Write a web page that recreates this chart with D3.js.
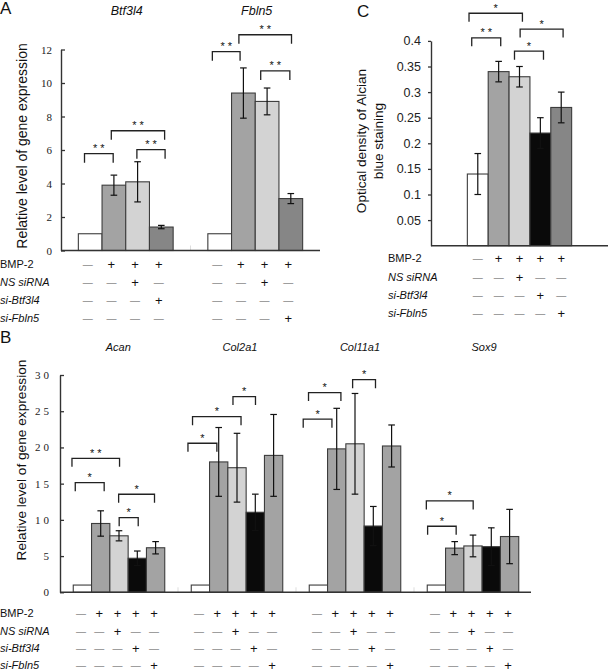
<!DOCTYPE html>
<html><head><meta charset="utf-8">
<script src="https://cdn.jsdelivr.net/npm/d3@7"></script>
<style>body{margin:0;background:#fff}svg{display:block}</style>
</head><body>
<svg id="chart" width="608" height="672"></svg>
<script>
// ---------- shared ----------
const conditionLabels = ["BMP-2", "NS siRNA", "si-Btf3l4", "si-Fbln5"];
const conditionItalic = [false, true, true, true];

// ---------- Panel A ----------
const genesA = ["Btf3l4", "Fbln5"];
const valuesA = [[1, 3.9, 4.1, 1.4], [1, 9.4, 8.9, 3.1]];
const errorsA = [[0, 0.6, 1.2, 0.1], [0, 1.5, 0.8, 0.3]];
const colorsA = ["#ffffff", "#a3a3a3", "#d3d3d3", "#868686"];
const signsA = [
  [["-", "+", "+", "+"], ["-", "-", "+", "-"], ["-", "-", "-", "+"], ["-", "-", "-", "-"]],
  [["-", "+", "+", "+"], ["-", "-", "+", "-"], ["-", "-", "-", "-"], ["-", "-", "-", "+"]]
];
const ticksA = [0, 2, 4, 6, 8, 10, 12];
// [group, from bar, to bar, height (data units), label]
const bracketsA = [
  [0, -0.24, 0.97, 5.78, "* *"], [0, 0.89, 3.14, 7.15, "* *"], [0, 1.97, 3.16, 6.02, "* *"],
  [1, -0.31, 0.86, 11.87, "* *"], [1, 0.81, 3.03, 12.88, "* *"], [1, 1.73, 2.96, 10.72, "* *"]
];

// ---------- Panel B ----------
const genesB = ["Acan", "Col2a1", "Col11a1", "Sox9"];
const valuesB = [
  [1, 9.5, 7.8, 4.7, 6.15],
  [1, 18, 17.2, 11.05, 18.9],
  [1, 19.8, 20.5, 9.15, 20.2],
  [1, 6.1, 6.4, 6.3, 7.7]
];
const errorsB = [
  [0, 1.75, 0.7, 1.0, 0.85],
  [0, 4.75, 4.75, 2.5, 5.65],
  [0, 5.6, 6.95, 2.7, 2.9],
  [0, 0.9, 1.5, 2.6, 3.75]
];
const colorsB = ["#ffffff", "#a3a3a3", "#d3d3d3", "#0a0a0a", "#a3a3a3"];
const signs5 = [["-", "+", "+", "+", "+"], ["-", "-", "+", "-", "-"], ["-", "-", "-", "+", "-"], ["-", "-", "-", "-", "+"]];
const ticksB = [0, 5, 10, 15, 20, 25, 30];
const bracketsB = [
  [0, -0.57, 2.03, 18.5, "* *"], [0, -0.39, 1.19, 15.14, "*"], [0, 1.98, 3.94, 13.54, "*"], [0, 2.01, 3.05, 10.3, "*"],
  [1, -0.68, 0.90, 20.58, "*"], [1, -0.43, 2.22, 24.25, "*"], [1, 1.78, 3.01, 27.02, "*"],
  [2, -0.83, 0.74, 23.9, "*"], [2, -0.54, 1.23, 27.57, "*"], [2, 1.87, 3.12, 29.36, "*"],
  [3, -0.55, 2.01, 12.61, "*"], [3, -0.48, 1.08, 9.12, "*"]
];

// ---------- Panel C ----------
const valuesC = [0.14, 0.34, 0.33, 0.22, 0.27];
const errorsC = [0.04, 0.02, 0.02, 0.03, 0.03];
const colorsC = ["#ffffff", "#a3a3a3", "#d3d3d3", "#0a0a0a", "#868686"];
const ticksC = [0.05, 0.1, 0.15, 0.2, 0.25, 0.3, 0.35, 0.4];
const bracketsC = [
  [0, -0.42, 2.14, 0.454, "*"], [0, -0.29, 1.10, 0.406, "* *"],
  [0, 2.03, 4.09, 0.423, "*"], [0, 1.76, 3.15, 0.380, "*"]
];

const SANS = "'Liberation Sans', Arial, sans-serif";
const SERIF = "'Liberation Serif', 'Times New Roman', serif";
const svg = d3.select("#chart");

function drawPanel(p) {
  const g = svg.append("g");
  const y = d3.scaleLinear().domain(p.domain).range(p.yRange);
  const x0 = d3.scaleBand().domain(d3.range(p.values.length)).range(p.xRange);
  const nb = p.values[0].length;
  const bw = x0.bandwidth();
  const x1 = d3.scaleBand().domain(d3.range(nb)).range([(bw - p.barsWidth) / 2, (bw + p.barsWidth) / 2]);
  const cx = (gi, bi) => x0(gi) + x1(0) + x1.bandwidth() * (bi + 0.5);

  // group dividers (faint)
  for (let i = 1; i < p.values.length; i++) {
    g.append("line").attr("x1", x0(i)).attr("x2", x0(i))
      .attr("y1", y(0)).attr("y2", y(0) - 5)
      .attr("stroke", "#ddd").attr("stroke-width", 1);
  }

  // bars
  p.values.forEach((vals, gi) => {
    const gg = g.append("g").attr("transform", `translate(${x0(gi)},0)`);
    gg.selectAll("rect").data(vals).join("rect")
      .attr("x", (d, i) => x1(i)).attr("width", x1.bandwidth())
      .attr("y", d => y(d)).attr("height", d => y(0) - y(d))
      .attr("fill", (d, i) => p.colors[i])
      .attr("stroke", "#3c3c3c").attr("stroke-width", 1.1);
    // error bars
    vals.forEach((v, i) => {
      const e = p.errors[gi][i];
      if (!e) return;
      const c = x1(i) + x1.bandwidth() / 2;
      const eg = gg.append("g").attr("stroke", "#111").attr("stroke-width", 1.2);
      eg.append("line").attr("x1", c).attr("x2", c).attr("y1", y(v - e)).attr("y2", y(v + e));
      eg.append("line").attr("x1", c - p.cap).attr("x2", c + p.cap).attr("y1", y(v - e)).attr("y2", y(v - e));
      eg.append("line").attr("x1", c - p.cap).attr("x2", c + p.cap).attr("y1", y(v + e)).attr("y2", y(v + e));
    });
  });

  // baseline
  g.append("line").attr("x1", p.xRange[0]).attr("x2", p.xAxisEnd)
    .attr("y1", y(0)).attr("y2", y(0)).attr("stroke", "#333").attr("stroke-width", 1.4);

  // y axis
  const ax = d3.axisLeft(y).tickValues(p.ticks).tickSizeOuter(0)
    .tickSizeInner(p.tickSize).tickPadding(p.tickPadding).tickFormat(p.tickFormat);
  const axg = g.append("g").attr("transform", `translate(${p.xRange[0]},0)`).call(ax);
  axg.select(".domain").attr("stroke", "#333").attr("stroke-width", 1.4);
  axg.selectAll(".tick line").attr("stroke", "#333").attr("stroke-width", 1.3);
  axg.selectAll(".tick text").attr("font-family", p.tickFont).attr("font-size", p.tickFontSize)
    .attr("fill", "#222").style("letter-spacing", p.tickSpacing || "0px");

  // brackets
  p.brackets.forEach(([gi, a, b, h, lab]) => {
    const xa = cx(gi, a), xb = cx(gi, b), yy = y(h);
    g.append("path").attr("d", `M${xa},${yy + p.leg}V${yy}H${xb}V${yy + p.leg}`)
      .attr("fill", "none").attr("stroke", "#222").attr("stroke-width", 1.3);
    g.append("text").attr("x", (xa + xb) / 2).attr("y", yy - 1.5).attr("text-anchor", "middle")
      .attr("font-family", SANS).attr("font-size", 11).attr("fill", "#111")
      .style("white-space", "pre").text(lab);
  });

  // gene titles
  if (p.titles) p.titles.forEach((t, gi) => {
    g.append("text").attr("x", p.titleX[gi]).attr("y", p.titleY).attr("text-anchor", "middle")
      .attr("font-family", SANS).attr("font-style", "italic").attr("font-size", p.titleSize)
      .attr("fill", "#111").text(t);
  });

  // condition rows
  conditionLabels.forEach((lab, r) => {
    const ry = p.rowY[r];
    g.append("text").attr("x", p.labelX).attr("y", ry).attr("dy", "0.35em")
      .attr("font-family", SANS).attr("font-size", 11)
      .attr("font-style", conditionItalic[r] ? "italic" : "normal").attr("fill", "#111").text(lab);
    p.signs.forEach((rows, gi) => {
      rows[r].forEach((s, bi) => {
        g.append("text").attr("x", cx(gi, bi) + p.signShift).attr("y", ry).attr("dy", "0.35em")
          .attr("text-anchor", "middle").attr("font-family", SANS)
          .attr("font-size", s === "+" ? 13 : 10)
          .attr("fill", s === "+" ? "#111" : "#888")
          .text(s === "+" ? "+" : "—");
      });
    });
  });
  return g;
}

// Panel A
drawPanel({
  values: valuesA, errors: errorsA, colors: colorsA, domain: [0, 12], yRange: [250.5, 49.5],
  xRange: [61, 320], xAxisEnd: 320, barsWidth: 94.8, cap: 3.3, ticks: ticksA,
  tickSize: -4, tickPadding: 9, tickFormat: d3.format("d"), tickFont: SERIF, tickFontSize: 11,
  brackets: bracketsA, leg: 9, titles: genesA, titleX: [126.7, 256.7], titleY: 14.5, titleSize: 12.5,
  rowY: [264, 282.3, 300, 318.3], labelX: 0, signs: signsA, signShift: -2.5
});

// Panel B
drawPanel({
  values: valuesB, errors: errorsB, colors: colorsB, domain: [0, 30], yRange: [592.3, 375],
  xRange: [60, 532], xAxisEnd: 531, barsWidth: 91.5, cap: 3.3, ticks: ticksB,
  tickSize: -4, tickPadding: 8, tickFormat: d3.format("d"), tickFont: SERIF, tickFontSize: 11, tickSpacing: "3px",
  brackets: bracketsB, leg: 8.5, titles: genesB, titleX: [118.3, 240, 360, 484], titleY: 350.5, titleSize: 11,
  rowY: [613.5, 631, 648.5, 665.5], labelX: 0, signs: [signs5, signs5, signs5, signs5], signShift: -1.5
});

// Panel C
drawPanel({
  values: [valuesC], errors: [errorsC], colors: colorsC, domain: [0, 0.4], yRange: [245.7, 40.9],
  xRange: [431, 608], xAxisEnd: 608, barsWidth: 104.3, cap: 3.3, ticks: ticksC,
  tickSize: 3, tickPadding: 7, tickFormat: d => String(+d.toFixed(2)), tickFont: SANS, tickFontSize: 12.5,
  brackets: bracketsC, leg: 8.5, titles: null,
  rowY: [258.3, 277.5, 295.5, 313.5], labelX: 388, signs: [signs5], signShift: 0
});

// y-axis titles
svg.append("text").attr("transform", "translate(27,146) rotate(-90)").attr("text-anchor", "middle")
  .attr("font-family", SANS).attr("font-size", 14).attr("fill", "#111").text("Relative level of gene expression");
svg.append("text").attr("transform", "translate(26,460) rotate(-90)").attr("text-anchor", "middle")
  .attr("font-family", SANS).attr("font-size", 13.7).attr("fill", "#111").text("Relative level of gene expression");
const cl = svg.append("text").attr("transform", "translate(366,141) rotate(-90)").attr("text-anchor", "middle")
  .attr("font-family", SANS).attr("font-size", 13.6).attr("fill", "#111");
cl.append("tspan").attr("x", 0).attr("y", 0).text("Optical density of Alcian");
cl.append("tspan").attr("x", 0).attr("y", 17).text("blue staining");

// panel letters
[["A", 0, 14], ["B", 0, 343], ["C", 357, 17]].forEach(([t, x, yy]) => {
  svg.append("text").attr("x", x).attr("y", yy).attr("font-family", SANS).attr("font-size", 17)
    .attr("fill", "#111").text(t);
});
</script>
</body></html>
